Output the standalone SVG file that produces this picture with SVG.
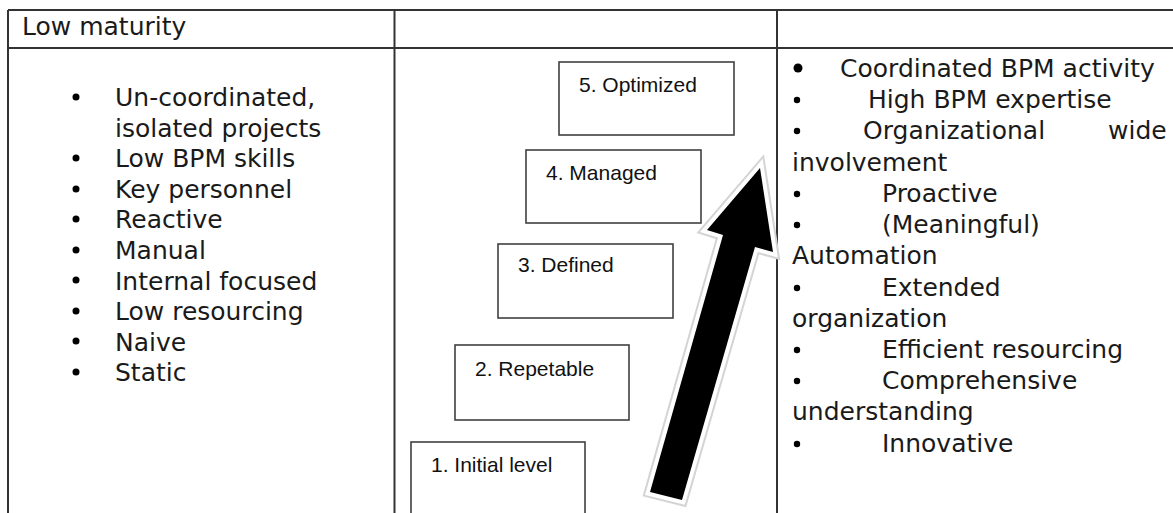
<svg xmlns="http://www.w3.org/2000/svg" width="1173" height="513" viewBox="0 0 1173 513">
<style>
.grid{stroke:#333;stroke-width:2;fill:none}
.box{fill:#fff;stroke:#404040;stroke-width:1.6}
.lbl{font-family:"Liberation Sans",Arial,sans-serif;font-size:21px;fill:#111}
.t{font-family:"DejaVu Sans",Verdana,sans-serif;font-size:25px;fill:#1a1a1a}
.b{fill:#000}
</style>
<rect width="1173" height="513" fill="#fff"/>
<g id="table">
<line class="grid" x1="8" y1="10" x2="1173" y2="10"/>
<line class="grid" x1="8" y1="48" x2="1173" y2="48"/>
<line class="grid" x1="8" y1="10" x2="8" y2="513"/>
<line class="grid" x1="394.5" y1="10" x2="394.5" y2="513"/>
<line class="grid" x1="777" y1="10" x2="777" y2="513"/>
</g>
<g id="header"><text class="t" x="22" y="35">Low maturity</text></g>
<g id="low-list">
<circle class="b" cx="76" cy="97" r="3.5"/><text class="t" x="115" y="106">Un-coordinated,</text>
<text class="t" x="115" y="136.6">isolated projects</text>
<circle class="b" cx="76" cy="158" r="3.5"/><text class="t" x="115" y="167.2">Low BPM skills</text>
<circle class="b" cx="76" cy="189" r="3.5"/><text class="t" x="115" y="197.8">Key personnel</text>
<circle class="b" cx="76" cy="219" r="3.5"/><text class="t" x="115" y="228.4">Reactive</text>
<circle class="b" cx="76" cy="250" r="3.5"/><text class="t" x="115" y="259">Manual</text>
<circle class="b" cx="76" cy="280" r="3.5"/><text class="t" x="115" y="289.6">Internal focused</text>
<circle class="b" cx="76" cy="311" r="3.5"/><text class="t" x="115" y="320.2">Low resourcing</text>
<circle class="b" cx="76" cy="341" r="3.5"/><text class="t" x="115" y="350.8">Naive</text>
<circle class="b" cx="76" cy="372" r="3.5"/><text class="t" x="115" y="381.4">Static</text>
</g>
<g id="level5"><rect class="box" x="559" y="62" width="175" height="73"/><text class="lbl" x="579" y="92">5. Optimized</text></g>
<g id="level4"><rect class="box" x="526" y="150" width="175" height="73"/><text class="lbl" x="546" y="180">4. Managed</text></g>
<g id="level3"><rect class="box" x="498" y="244" width="175" height="74"/><text class="lbl" x="518" y="272">3. Defined</text></g>
<g id="level2"><rect class="box" x="455" y="345" width="174" height="75"/><text class="lbl" x="475" y="376">2. Repetable</text></g>
<g id="level1"><rect class="box" x="411" y="442" width="174" height="80"/><text class="lbl" x="431" y="472">1. Initial level</text></g>
<g id="connectors">
<polygon points="760,168 773,252 755,247 682,500 650,492 723,235 707,230" fill="none" stroke="#d4d4d4" stroke-width="12" stroke-linejoin="miter"/>
<polygon points="760,168 773,252 755,247 682,500 650,492 723,235 707,230" fill="#000" stroke="#fff" stroke-width="8" stroke-linejoin="miter"/>
<polygon points="760,168 773,252 755,247 682,500 650,492 723,235 707,230" fill="#000"/>
</g>
<g id="high-list">
<circle class="b" cx="798" cy="68" r="4.5"/><text class="t" x="840" y="77">Coordinated BPM activity</text>
<circle class="b" cx="797" cy="100" r="3.2"/><text class="t" x="868" y="108">High BPM expertise</text>
<circle class="b" cx="797" cy="131" r="3.2"/><text class="t" x="863" y="139">Organizational</text><text class="t" x="1108" y="139">wide</text>
<text class="t" x="792" y="171">involvement</text>
<circle class="b" cx="797" cy="194" r="3.2"/><text class="t" x="882" y="202">Proactive</text>
<circle class="b" cx="797" cy="225" r="3.2"/><text class="t" x="882" y="233">(Meaningful)</text>
<text class="t" x="792" y="264">Automation</text>
<circle class="b" cx="797" cy="288" r="3.2"/><text class="t" x="882" y="296">Extended</text>
<text class="t" x="792" y="327">organization</text>
<circle class="b" cx="797" cy="350" r="3.2"/><text class="t" x="882" y="358">Efficient resourcing</text>
<circle class="b" cx="797" cy="381" r="3.2"/><text class="t" x="882" y="389">Comprehensive</text>
<text class="t" x="792" y="420">understanding</text>
<circle class="b" cx="797" cy="444" r="3.2"/><text class="t" x="882" y="452">Innovative</text>
</g>
</svg>
